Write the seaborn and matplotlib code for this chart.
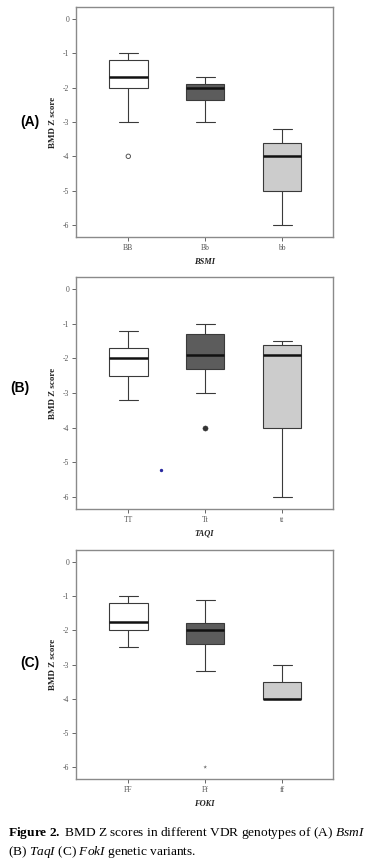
"""
BMD Z scores by VDR genotype (BsmI, TaqI, FokI) - three stacked box plots
"""

import pandas as pd
import numpy as np
import seaborn as sns
import matplotlib.pyplot as plt

# --------------------------------------------------
# Five-number summaries
# (min whisker, Q1, median, Q3, max whisker)
# --------------------------------------------------
bsmi_genotypes = ["BB", "Bb", "bb"]
bsmi_BB = [-3.0, -2.0, -1.7, -1.2, -1.0]
bsmi_Bb = [-3.0, -2.35, -2.0, -1.9, -1.7]
bsmi_bb = [-6.0, -5.0, -4.0, -3.6, -3.2]
bsmi_outlier_geno = ["BB"]
bsmi_outlier_val = [-4.0]

taqi_genotypes = ["TT", "Tt", "tt"]
taqi_TT = [-3.2, -2.5, -2.0, -1.7, -1.2]
taqi_Tt = [-3.0, -2.3, -1.9, -1.3, -1.0]
taqi_tt = [-6.0, -4.0, -1.9, -1.6, -1.5]
taqi_outlier_geno = ["Tt"]
taqi_outlier_val = [-4.0]
# stray blue speck in panel B (between TT and Tt)
taqi_speck_x = [0.43]
taqi_speck_y = [-5.23]

foki_genotypes = ["FF", "Ff", "ff"]
foki_FF = [-2.5, -2.0, -1.75, -1.2, -1.0]
foki_Ff = [-3.2, -2.4, -2.0, -1.8, -1.1]
foki_ff = [-4.0, -4.0, -4.0, -3.5, -3.0]
foki_outlier_geno = ["Ff"]
foki_outlier_val = [-6.0]

yticks = [0, -1, -2, -3, -4, -5, -6]
box_colors = ["#ffffff", "#5c5c5c", "#cccccc"]


def long_frame(genotypes, groups):
    rows = []
    for g, vals in zip(genotypes, groups):
        for v in vals:
            rows.append({"genotype": g, "z": v})
    return pd.DataFrame(rows)


sns.set_style("white")
plt.rcParams["font.family"] = ["Liberation Serif", "DejaVu Serif"]
plt.rcParams["text.color"] = "black"
plt.rcParams["mathtext.fontset"] = "custom"
plt.rcParams["mathtext.rm"] = "Liberation Serif"
plt.rcParams["mathtext.it"] = "Liberation Serif:italic"
plt.rcParams["mathtext.bf"] = "Liberation Serif:bold"

fig = plt.figure(figsize=(3.74, 8.63), dpi=100)

panels = [
    ("(A)", "BSMI", bsmi_genotypes, [bsmi_BB, bsmi_Bb, bsmi_bb],
     bsmi_outlier_geno, bsmi_outlier_val, "open",
     [0.2032, 0.7254, 0.687, 0.2665], 0.080, 0.859),
    ("(B)", "TAQI", taqi_genotypes, [taqi_TT, taqi_Tt, taqi_tt],
     taqi_outlier_geno, taqi_outlier_val, "filled",
     [0.2032, 0.4102, 0.687, 0.2688], 0.054, 0.550),
    ("(C)", "FOKI", foki_genotypes, [foki_FF, foki_Ff, foki_ff],
     foki_outlier_geno, foki_outlier_val, "star",
     [0.2032, 0.0973, 0.687, 0.2654], 0.080, 0.232),
]

for label, xname, genos, groups, og, ov, ostyle, rect, label_x, label_y in panels:
    ax = fig.add_axes(rect)
    df = long_frame(genos, groups)
    sns.boxplot(data=df, x="genotype", y="z", hue="genotype", order=genos,
                palette=box_colors, saturation=1, legend=False, width=0.5,
                whis=(0, 100), linecolor="#3a3a3a", linewidth=0.8,
                medianprops={"color": "#111111", "linewidth": 1.8},
                ax=ax)

    # outliers
    odf = pd.DataFrame({"genotype": og, "z": ov})
    if ostyle == "open":
        sns.scatterplot(data=odf, x="genotype", y="z", marker="o", s=10,
                        facecolor="none", edgecolor="#555555", linewidth=0.7,
                        ax=ax, zorder=5)
    elif ostyle == "filled":
        sns.scatterplot(data=odf, x="genotype", y="z", marker="o", s=14,
                        color="#333333", edgecolor="#333333", ax=ax, zorder=5)
    else:
        sns.scatterplot(data=odf, x="genotype", y="z", marker="*", s=8,
                        color="#777777", edgecolor="none", ax=ax, zorder=5)
    if label == "(B)":
        ax.scatter(taqi_speck_x, taqi_speck_y, s=2, color="#2a2aa0", zorder=5)

    ax.set_xlim(-0.68, 2.66)
    ax.set_ylim(-6.35, 0.35)
    ax.set_yticks(yticks)
    ax.set_yticklabels([str(t) for t in yticks], fontsize=5.5, color="#555555")
    ax.set_xticks(range(len(genos)))
    ax.set_xticklabels(genos, fontsize=5.5, color="#555555")
    ax.tick_params(axis="both", which="both", direction="out", length=3,
                   width=0.7, color="#666666", pad=2,
                   left=True, bottom=True)
    for sp in ax.spines.values():
        sp.set_color("#8a8a8a")
        sp.set_linewidth(1.0)

    ax.set_ylabel("BMD Z score", fontsize=6.5, fontweight="bold", color="#222222")
    ax.yaxis.set_label_coords(-0.072, 0.5)
    ax.set_xlabel(xname, fontsize=6, fontweight="bold", fontstyle="italic",
                  color="#222222")
    ax.xaxis.set_label_coords(0.5, -0.09)

    fig.text(label_x, label_y, label, fontsize=10, fontweight="bold",
             family=["Liberation Sans", "DejaVu Sans"], ha="center",
             va="center", color="black")

fig.text(0.022, 0.0348,
         r"$\mathbf{Figure\ 2.}$ BMD Z scores in different VDR genotypes of (A) $\mathit{BsmI}$",
         fontsize=9.6, ha="left", va="center", color="black")
fig.text(0.022, 0.0127,
         r"(B) $\mathit{TaqI}$ (C) $\mathit{FokI}$ genetic variants.",
         fontsize=9.6, ha="left", va="center", color="black")

plt.savefig("out.png", dpi=100)
plt.close()
